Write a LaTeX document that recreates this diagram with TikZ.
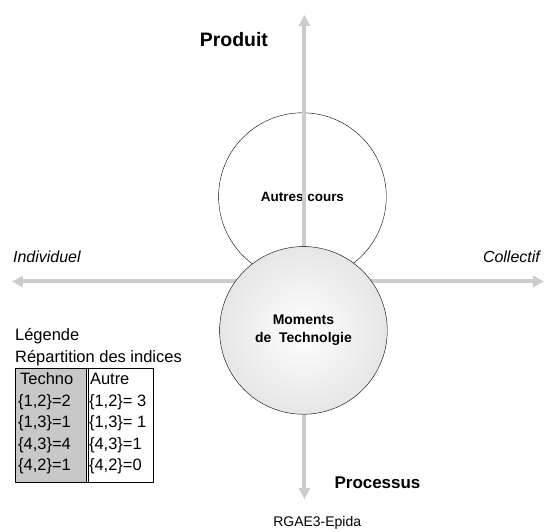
\documentclass[tikz,border=0pt]{standalone}
\usepackage{fontspec}
\setmainfont{Liberation Sans}
\usetikzlibrary{arrows.meta}
\definecolor{axisgray}{RGB}{204,204,204}
\definecolor{techgray}{RGB}{200,200,200}
\definecolor{shadegray}{RGB}{230,230,230}

\begin{document}
\begin{tikzpicture}[x=1pt,y=-1pt,line join=round,
  axisline/.style={draw=axisgray,line width=4pt,-{Triangle[length=11pt,width=11pt]}},
  bigcircle/.style={circle,draw,thin,minimum size=168pt,inner sep=0pt,align=center},
  headtext/.style={inner sep=0pt,font=\bfseries\fontsize{19.5}{22}\selectfont},
  legendtext/.style={inner sep=0pt,anchor=base west,font=\fontsize{16.5}{19}\selectfont}]
\fill[white] (0,0) rectangle (546,532);
\coordinate (O) at (305,282);
% upper circle, under the axes
\node[bigcircle,font=\bfseries\fontsize{13.5}{16}\selectfont] (autres) at (303,197) {Autres cours};
% axes
\draw[axisline] (O) -- (305,15) coordinate (top);
\draw[axisline] (O) -- (305,500) coordinate (bottom);
\draw[axisline] (O) -- (12,282) coordinate (left);
\draw[axisline] (O) -- (545,282) coordinate (right);
% lower circle, on top
\node[bigcircle,shade,inner color=white,outer color=shadegray,
  font=\bfseries\fontsize{14}{18}\selectfont] (techno) at (304,331) {Moments\\de~~Technolgie};
\node[headtext,anchor=base west] (produit) at (200,47) {Produit};
\node[headtext,anchor=base west,font=\bfseries\fontsize{17}{20}\selectfont] (processus) at (335,489) {Processus};
\node[legendtext,font=\itshape\fontsize{16}{19}\selectfont] (individuel) at (13,263) {Individuel};
\node[legendtext,anchor=base east,font=\itshape\fontsize{16}{19}\selectfont] (collectif) at (541,263) {Collectif};
\node[legendtext,anchor=base east,font=\fontsize{14}{17}\selectfont] (source) at (362,527) {RGAE3-Epida};
% legend
\node[legendtext] (legende) at (15,341) {Légende};
\node[legendtext] (repartition) at (15,363) {Répartition des indices};
\fill[techgray] (15,369) rectangle (86,483);
\draw (15,369) rectangle (153,483);
\draw (86,369) -- (86,483);
\draw (88,369) -- (88,483);
\node[legendtext] (head1) at (20,385) {Techno};
\node[legendtext] (head2) at (90,385) {Autre};
\foreach \t/\a [count=\i] in {{\{1,2\}=2}/{\{1,2\}= 3},{\{1,3\}=1}/{\{1,3\}= 1},{\{4,3\}=4}/{\{4,3\}=1},{\{4,2\}=1}/{\{4,2\}=0}}{
  \node[legendtext] (tech\i) at (18,386+21.3*\i) {\t};
  \node[legendtext] (autre\i) at (89,386+21.3*\i) {\a};
}
\end{tikzpicture}
\end{document}
